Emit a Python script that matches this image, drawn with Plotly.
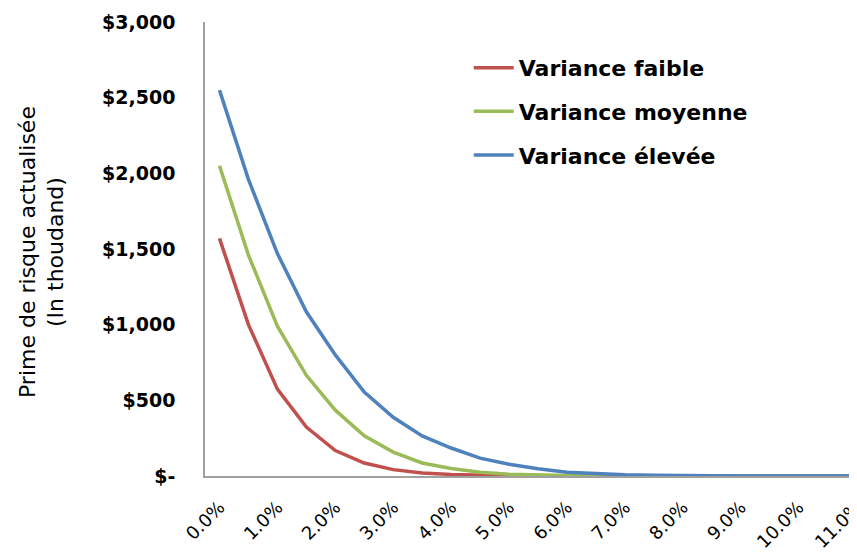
import plotly.graph_objects as go

rates = ["0.0%", "0.5%", "1.0%", "1.5%", "2.0%", "2.5%", "3.0%", "3.5%", "4.0%", "4.5%",
         "5.0%", "5.5%", "6.0%", "6.5%", "7.0%", "7.5%", "8.0%", "8.5%", "9.0%", "9.5%",
         "10.0%", "10.5%", "11.0%"]
tick_labels = ["0.0%", "1.0%", "2.0%", "3.0%", "4.0%", "5.0%", "6.0%", "7.0%", "8.0%",
               "9.0%", "10.0%", "11.0%"]

variance_faible = [1570, 1000, 574, 323, 168, 86, 42, 20, 10, 5, 2, 1, 0, 0, 0, 0, 0, 0, 0, 0, 0, 0, 0]
variance_moyenne = [2050, 1460, 990, 665, 435, 265, 158, 86, 50, 25, 12, 6, 3, 1, 0, 0, 0, 0, 0, 0, 0, 0, 0]
variance_elevee = [2550, 1960, 1470, 1085, 800, 555, 388, 265, 185, 118, 78, 48, 25, 15, 8, 5, 2, 1, 0, 0, 0, 0, 0]

series = [
    ("Variance faible", variance_faible, "#C0504D"),
    ("Variance moyenne", variance_moyenne, "#9BBB59"),
    ("Variance élevée", variance_elevee, "#4F81BD"),
]

fig = go.Figure()
for i, (name, vals, color) in enumerate(series):
    fig.add_trace(go.Scatter(x=rates, y=vals, mode="lines", name=name,
                             legendgroup=f"g{i}",
                             line=dict(color=color, width=3.5)))

y_ticks = [0, 500, 1000, 1500, 2000, 2500, 3000]
y_tick_text = ["$-", "$500", "$1,000", "$1,500", "$2,000", "$2,500", "$3,000"]

fig.update_layout(
    width=871, height=555,
    margin=dict(l=197, r=8, t=14, b=87),
    plot_bgcolor="white", paper_bgcolor="white",
    font=dict(family="DejaVu Sans", color="black"),
    showlegend=True,
    legend=dict(x=0.396, y=0.945, xanchor="left", yanchor="top",
                font=dict(size=22, weight="bold", color="black"),
                tracegroupgap=12, itemwidth=40, bgcolor="rgba(0,0,0,0)",
                traceorder="grouped"),
    xaxis=dict(type="category", categoryorder="array", categoryarray=rates,
               tickvals=tick_labels, ticktext=tick_labels, tickangle=-45,
               range=[-0.5, len(rates) - 0.5],
               showline=True, linecolor="#A0A0A0", linewidth=1.5,
               showgrid=False, zeroline=False, ticks="", automargin=False,
               ticklabelstandoff=12,
               tickfont=dict(size=18, color="black", family="DejaVu Sans")),
    yaxis=dict(range=[0, 3000], tickvals=y_ticks, ticktext=y_tick_text,
               showline=True, linecolor="#A0A0A0", linewidth=1.5,
               showgrid=False, zeroline=False, ticks="", automargin=False,
               ticklabelstandoff=24,
               tickfont=dict(size=19, weight="bold", color="black", family="DejaVu Sans")),
    annotations=[dict(text="Prime de risque actualisée<br>(In thoudand)",
                      xref="paper", yref="paper", x=-0.245, y=0.493,
                      xanchor="center", yanchor="middle", textangle=-90,
                      showarrow=False,
                      font=dict(size=22, color="black", family="DejaVu Sans"))],
)

fig.write_html(
    "out.html",
    post_script="document.documentElement.style.overflow='hidden';document.body.style.overflow='hidden';",
)
